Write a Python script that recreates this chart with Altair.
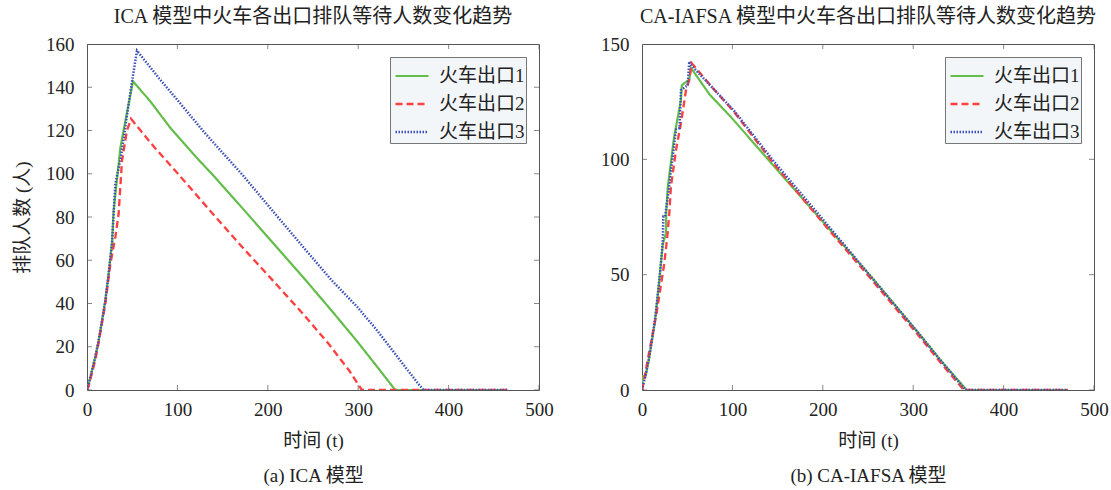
import altair as alt
import pandas as pd

SERIES = ["火车出口1", "火车出口2", "火车出口3"]
COLORS = ["#63bd4a", "#ff4040", "#3b4fb8"]
DASHES = [[1, 0], [7, 4], [1.5, 1.5]]
WIDTHS = [2.2, 2.5, 1.6]

# (a) ICA model
ICA_T1 = [0, 2, 5.5, 9, 13, 16.6, 20.3, 24, 27.7, 29.5, 36.9, 42.5, 50.9, 70, 92.6, 120, 140.2, 170, 203.7, 239.4, 271, 298.8, 318.6, 341, 465]
ICA_Q1 = [0, 3, 9, 15, 23, 32, 41.5, 54, 68, 83, 112, 124.6, 142.7, 133.5, 121, 108, 99, 85, 69, 52, 36.5, 22.5, 12, 0, 0]
ICA_T2 = [0, 2, 5.5, 9.2, 12.9, 16.6, 20.3, 25.9, 31.4, 35, 38.7, 44.2, 48.7, 75, 100.6, 135, 171.9, 203.7, 239.4, 267, 290, 304, 465]
ICA_Q2 = [0, 2, 8, 14, 22, 31, 40, 58.5, 70.8, 81.5, 106, 120, 125.4, 112, 100, 83.5, 66, 51.5, 35, 21.5, 9, 0, 0]
ICA_T3 = [0, 2, 5.5, 9.2, 12.9, 16.6, 20.3, 24, 27.7, 29.6, 31.4, 37.6, 44.2, 49.8, 55.3, 80, 100.6, 130, 172, 205, 239.4, 270, 298.8, 320, 338.5, 355, 372, 465]
ICA_Q3 = [0, 3, 9, 15.4, 23, 32, 41.5, 54, 68.4, 83, 95.4, 108, 126.9, 142.7, 156.9, 144, 133.8, 119, 99.5, 83, 66, 51, 38.5, 28, 18, 9, 0, 0]

# (b) CA-IAFSA model
CA_T1 = [0, 0.8, 4, 8, 14.4, 19.2, 22.9, 26.5, 26.8, 28.4, 34.6, 35.7, 43.1, 44, 46.8, 52.3, 54.2, 75, 98, 145, 200, 250.4, 305.2, 330, 359, 471]
CA_Q1 = [0, 6, 6, 14, 30, 47.7, 63, 68, 76.7, 87.5, 107, 110, 125.8, 132, 133, 134.5, 139.6, 128, 118.5, 97.5, 73, 50.5, 25, 13, 0, 0]
CA_T2 = [0, 1.2, 6.3, 16, 24.7, 28.4, 30.2, 32, 37.6, 43.1, 48.7, 52, 55, 78, 102, 145, 200, 250.4, 305.2, 330, 356, 471]
CA_Q2 = [0, 2, 13, 33, 55, 68, 76.7, 88.2, 104, 115.7, 130, 134, 141.7, 131, 120.5, 98.5, 72.5, 49.5, 24, 12, 0, 0]
CA_T3 = [0, 1.3, 3.3, 8.1, 14.4, 19.2, 22.9, 23.6, 25.5, 30, 32, 37.7, 41.5, 43.1, 48.7, 50.5, 52.3, 54, 78, 102, 145, 200, 250.4, 305.2, 330, 358, 471]
CA_Q3 = [0, 2.3, 5.1, 14.4, 30.4, 47.7, 63.6, 75.2, 75.2, 88, 95.4, 113, 113.5, 130, 131.6, 132, 142.4, 141, 131, 121, 99.5, 74, 50.5, 25, 13, 0, 0]

X_TICKS = [0, 100, 200, 300, 400, 500]
ICA_Y_TICKS = [0, 20, 40, 60, 80, 100, 120, 140, 160]
CA_Y_TICKS = [0, 50, 100, 150]

FONT = "Liberation Serif, Noto Sans CJK SC"
FRAME = "#555555"
NBSP = "\u00a0"


def long_df(tlists, qlists):
    rows = []
    for name, ts, qs in zip(SERIES, tlists, qlists):
        for i, (t, q) in enumerate(zip(ts, qs)):
            rows.append({"series": name, "t": t, "v": q, "i": i})
    return pd.DataFrame(rows)


def panel(df, y_ticks, ymax, title, xtitle, ytitle):
    xs = alt.Scale(domain=[0, 500], nice=False, zero=False)
    ys = alt.Scale(domain=[0, ymax], nice=False, zero=False)
    xaxis = alt.Axis(values=X_TICKS, labelPadding=10, titlePadding=12, titleLineHeight=35, labelFlush=False)
    yaxis = alt.Axis(values=y_ticks, labelPadding=13, titlePadding=13, labelFlush=False)
    ytitle_val = ytitle if ytitle else ""
    leg = alt.Legend(title=None, orient="top-right", labelExpr="datum.label + '" + NBSP * 2 + "'")
    lines = alt.Chart(df).mark_line(clip=True, strokeCap="butt").encode(
        x=alt.X("t:Q", scale=xs, title=xtitle, axis=xaxis),
        y=alt.Y("v:Q", scale=ys, title=ytitle_val, axis=yaxis),
        color=alt.Color("series:N", scale=alt.Scale(domain=SERIES, range=COLORS), legend=leg),
        strokeDash=alt.StrokeDash("series:N", scale=alt.Scale(domain=SERIES, range=DASHES), legend=leg),
        strokeWidth=alt.StrokeWidth("series:N", scale=alt.Scale(domain=SERIES, range=WIDTHS), legend=None),
        order="i:Q",
    )
    xt_df = pd.DataFrame({"t": X_TICKS})
    yt_df = pd.DataFrame({"v": y_ticks})
    xtick = alt.Chart(xt_df).mark_tick(orient="vertical", size=10, thickness=1, color=FRAME, clip=True)
    ytick = alt.Chart(yt_df).mark_tick(orient="horizontal", size=10, thickness=1, color=FRAME, clip=True)
    xenc = alt.X("t:Q", scale=xs, title=xtitle, axis=xaxis)
    yenc = alt.Y("v:Q", scale=ys, title=ytitle_val, axis=yaxis)
    layers = [
        lines,
        xtick.encode(x=xenc, y=alt.YDatum(0, scale=ys, title=ytitle_val, axis=yaxis)),
        xtick.encode(x=xenc, y=alt.YDatum(ymax, scale=ys, title=ytitle_val, axis=yaxis)),
        ytick.encode(y=yenc, x=alt.XDatum(0, scale=xs, title=xtitle, axis=xaxis)),
        ytick.encode(y=yenc, x=alt.XDatum(500, scale=xs, title=xtitle, axis=xaxis)),
    ]
    return alt.layer(*layers).properties(
        width=452, height=346,
        title=alt.TitleParams(title, font=FONT, fontSize=20, fontWeight="normal", color="#222222", offset=8),
    ).resolve_scale(color="independent", strokeDash="independent", strokeWidth="independent")


ica = panel(long_df([ICA_T1, ICA_T2, ICA_T3], [ICA_Q1, ICA_Q2, ICA_Q3]), ICA_Y_TICKS, 160,
            "ICA 模型中火车各出口排队等待人数变化趋势", ["时间 (t)", "(a) ICA 模型"], "排队人数 (人)")
ca = panel(long_df([CA_T1, CA_T2, CA_T3], [CA_Q1, CA_Q2, CA_Q3]), CA_Y_TICKS, 150,
           "CA-IAFSA 模型中火车各出口排队等待人数变化趋势", ["时间 (t)", "(b) CA-IAFSA 模型"], None)

chart = alt.hconcat(ica, ca, spacing=46).resolve_scale(
    color="independent", strokeDash="independent", strokeWidth="independent"
).properties(
    padding={"left": 13, "top": 6, "right": 2, "bottom": 2}
).configure_view(
    stroke=FRAME, strokeWidth=1
).configure_axis(
    domain=False, ticks=False, tickSize=0, grid=False,
    labelFont=FONT, labelFontSize=19, labelColor="#222222",
    titleFont=FONT, titleFontSize=19, titleFontWeight="normal", titleColor="#222222",
).configure_legend(
    labelFont=FONT, labelFontSize=19, labelColor="#222222",
    symbolType="stroke", symbolSize=1089, symbolStrokeWidth=2.5, symbolOffset=3,
    labelOffset=9, rowPadding=-3.5, padding=1, offset=13,
    fillColor="#f3f6f9", strokeColor="#777777",
)

chart.save("out.html", embed_options={"renderer": "svg", "actions": False})
